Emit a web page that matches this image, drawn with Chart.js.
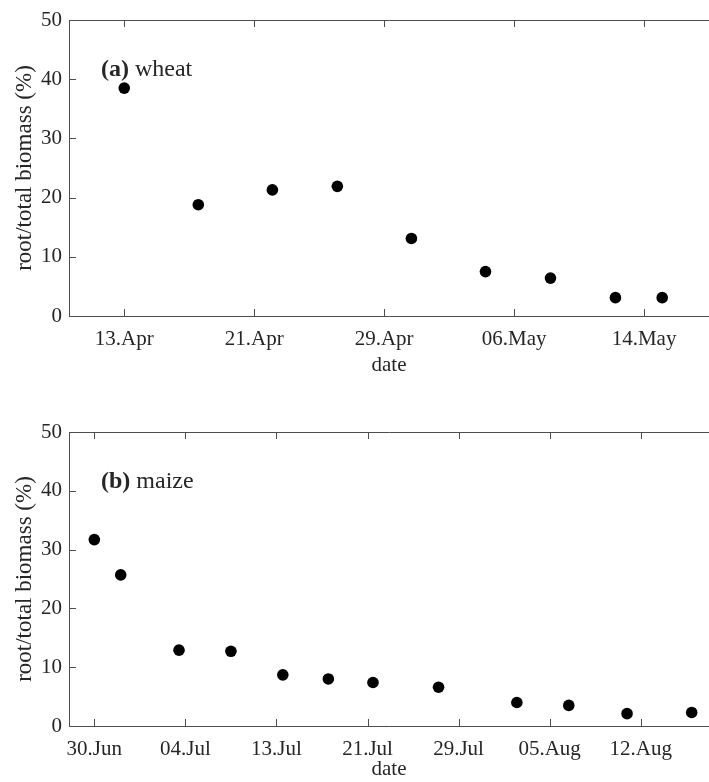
<!DOCTYPE html>
<html>
<head>
<meta charset="utf-8">
<script src="https://cdn.jsdelivr.net/npm/chart.js@4"></script>
<style>
  html, body { margin: 0; padding: 0; background: #fff; }
  .panel { position: absolute; left: 0; width: 709px; }
  #wheatBox { top: 0; height: 390px; }
  #maizeBox { top: 390px; height: 392px; }
</style>
</head>
<body>
<div class="panel" id="wheatBox"><canvas id="wheatChart"></canvas></div>
<div class="panel" id="maizeBox"><canvas id="maizeChart"></canvas></div>
<script>
// data (x in tick-interval units along the date axis)
const wheatX = [0, 0.57, 1.14, 1.64, 2.21, 2.78, 3.28, 3.78, 4.14];
const wheatY = [38.5, 18.8, 21.3, 21.9, 13.1, 7.5, 6.4, 3.1, 3.1];
const wheatTickLabels = ['13.Apr', '21.Apr', '29.Apr', '06.May', '14.May'];

const maizeX = [0, 0.29, 0.93, 1.50, 2.07, 2.57, 3.06, 3.78, 4.64, 5.21, 5.85, 6.56];
const maizeY = [31.7, 25.7, 12.9, 12.7, 8.7, 8.0, 7.4, 6.6, 4.0, 3.5, 2.1, 2.3];
const maizeTickLabels = ['30.Jun', '04.Jul', '13.Jul', '21.Jul', '29.Jul', '05.Aug', '12.Aug'];

const yTicks = [0, 10, 20, 30, 40, 50];

const FONT = '"Liberation Serif", "Times New Roman", serif';
const TEXT = '#262626';
const AXIS = '#4d4d4d';

// draws the box (left, bottom, top) with inward tick marks, and the panel tag
const frame = {
  id: 'frame',
  afterDraw(chart, args, opts) {
    const { ctx, chartArea: a, scales } = chart;
    ctx.save();
    ctx.strokeStyle = AXIS;
    ctx.lineWidth = 1;
    ctx.beginPath();
    ctx.moveTo(a.left + 0.5, a.top + 0.5);
    ctx.lineTo(a.left + 0.5, a.bottom + 0.5);
    ctx.lineTo(a.right, a.bottom + 0.5);
    ctx.moveTo(a.left + 0.5, a.top + 0.5);
    ctx.lineTo(a.right, a.top + 0.5);
    scales.x.ticks.forEach(t => {
      const px = Math.round(scales.x.getPixelForValue(t.value)) + 0.5;
      ctx.moveTo(px, a.bottom);
      ctx.lineTo(px, a.bottom - 7);
      ctx.moveTo(px, a.top);
      ctx.lineTo(px, a.top + 7);
    });
    scales.y.ticks.forEach(t => {
      const py = Math.round(scales.y.getPixelForValue(t.value)) + 0.5;
      ctx.moveTo(a.left, py);
      ctx.lineTo(a.left + 7, py);
    });
    ctx.stroke();

    // "(a) wheat" style tag
    ctx.fillStyle = TEXT;
    ctx.textBaseline = 'middle';
    ctx.font = 'bold 24px ' + FONT;
    const x0 = a.left + 32;
    const y0 = scales.y.getPixelForValue(opts.tagY);
    ctx.fillText(opts.tag, x0, y0);
    const w = ctx.measureText(opts.tag + ' ').width;
    ctx.font = '24px ' + FONT;
    ctx.fillText(opts.name, x0 + w, y0);
    ctx.restore();
  }
};

function makeChart(id, xs, ys, tickLabels, xMin, xMax, padTop, xHeight, titlePadBottom, tag, name) {
  const points = xs.map((x, i) => ({ x: x, y: ys[i] }));
  return new Chart(document.getElementById(id), {
    type: 'scatter',
    data: {
      datasets: [{
        data: points,
        pointRadius: 5.8,
        pointHoverRadius: 5.8,
        backgroundColor: '#000',
        borderColor: '#000',
        borderWidth: 0
      }]
    },
    options: {
      responsive: true,
      maintainAspectRatio: false,
      animation: false,
      events: [],
      layout: { autoPadding: false, padding: { top: padTop, right: 0, left: 0, bottom: 0 } },
      plugins: {
        legend: { display: false },
        tooltip: { enabled: false },
        frame: { tag: tag, name: name, tagY: 41.6 }
      },
      scales: {
        x: {
          type: 'linear',
          min: xMin,
          max: xMax,
          grid: { display: false, drawTicks: false },
          border: { display: false },
          afterBuildTicks: (scale) => {
            scale.ticks = tickLabels.map((_, i) => ({ value: i }));
          },
          afterFit: (scale) => { scale.height = xHeight; },
          ticks: {
            autoSkip: false,
            maxRotation: 0,
            padding: 11,
            color: TEXT,
            font: { family: FONT, size: 21 },
            callback: (v) => tickLabels[v]
          },
          title: {
            display: true,
            text: 'date',
            color: TEXT,
            font: { family: FONT, size: 21 },
            padding: { top: 0, bottom: titlePadBottom }
          }
        },
        y: {
          min: 0,
          max: 50,
          grid: { display: false, drawTicks: false },
          border: { display: false },
          afterBuildTicks: (scale) => {
            scale.ticks = yTicks.map(v => ({ value: v }));
          },
          afterFit: (scale) => { scale.width = 69; },
          ticks: {
            padding: 7,
            color: TEXT,
            font: { family: FONT, size: 21 }
          },
          title: {
            display: true,
            text: 'root/total biomass (%)',
            color: TEXT,
            font: { family: FONT, size: 23 },
            padding: { top: 11, bottom: 0 }
          }
        }
      }
    },
    plugins: [frame]
  });
}

makeChart('wheatChart', wheatX, wheatY, wheatTickLabels, -0.425, 4.5, 20, 74, 12, '(a)', 'wheat');
makeChart('maizeChart', maizeX, maizeY, maizeTickLabels, -0.278, 6.75, 42, 56, 0, '(b)', 'maize');
</script>
</body>
</html>
